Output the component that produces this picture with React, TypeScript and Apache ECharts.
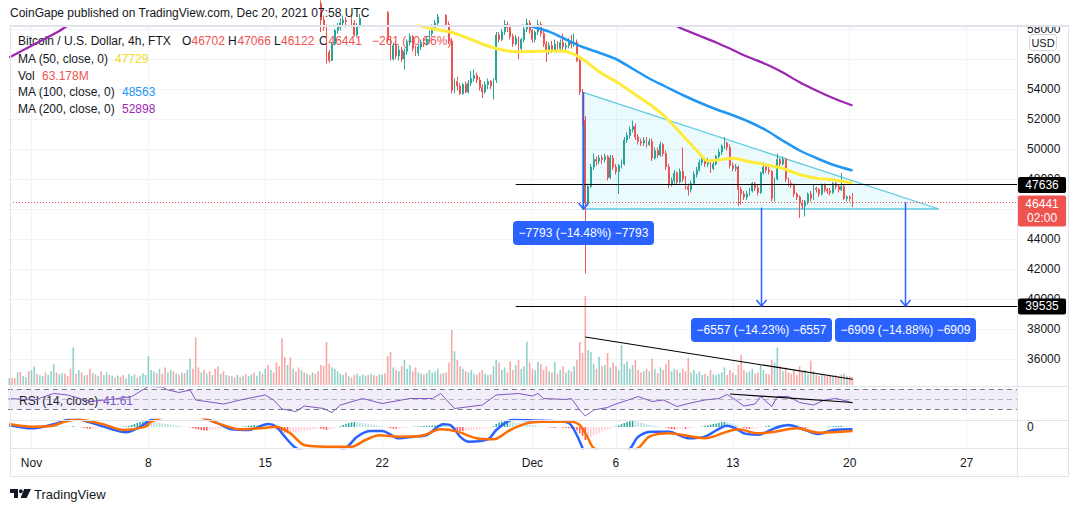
import React, { useEffect, useRef } from "react";
import * as echarts from "echarts";

// ---------------- styling constants ----------------
const FONT = "'Liberation Sans', Arial, sans-serif";
const TEXT = "#131722";
const UP = "#26a69a";
const DOWN = "#ef5350";
const VOL_UP = "rgba(38,166,154,0.5)";
const VOL_DOWN = "rgba(239,83,80,0.5)";
const GRID_COLOR = "#f0f3fa";
const FRAME = "#e0e3eb";
const BLUE_TOOL = "#2962ff";

// ---------------- axis domain ----------------
// slots are 4h bars counted from 2021-11-01 00:00 UTC
const FIRST_SLOT = -8; // 2021-10-30 16:00
const SLOT_COUNT = 363;
const timeTicks: [number, string][] = [
  [0, "Nov"], [42, "8"], [84, "15"], [126, "22"], [180, "Dec"],
  [210, "6"], [252, "13"], [294, "20"], [336, "27"],
];
// price labels drawn on the right scale (46000 is hidden under the last-price badge)
const priceLabels = [36000, 38000, 40000, 42000, 44000, 48000, 50000, 52000, 54000, 56000, 58000];

// ---------------- candles [open, close, low, high], slot 100 .. 295 ----------------
const CANDLE_START = 100;
const candles: number[][] = [
  [60300,60000,59700,60600],[60000,60200,59800,60500],[60200,59900,59600,60400],[59900,59700,59400,60100],
  [59700,58600,57800,59900],[58600,58100,57900,58900],[58100,56450,55700,58300],[56450,55900,55750,56600],
  [55900,57000,55850,57100],[57000,57900,56900,58000],[57900,58100,57700,58400],[58100,58400,57900,58700],
  [58400,58600,58200,58900],[58600,58500,58100,58800],[58500,58700,58300,59000],[58700,58400,58100,58900],
  [58400,57600,57500,58600],[57600,58200,57500,58400],[58200,58700,58100,59000],[58700,59100,58500,59300],
  [59100,59400,58900,59700],[59400,59200,58900,59600],[59200,59600,59000,59800],[59600,59300,59000,59700],
  [59300,59000,58700,59500],[59000,59200,58800,59400],[59200,59400,59000,59700],[59400,59100,58800,59600],
  [59100,57300,57100,59200],[57300,56000,55900,57500],[56000,56900,55900,57100],[56900,56200,56000,57200],
  [56200,56600,55900,56900],[56600,56000,55800,56800],[56000,56500,55300,56700],[56500,57100,56300,57300],
  [57100,57500,56900,57700],[57500,56700,56500,57600],[56700,56400,56200,56900],[56400,56800,56200,57000],
  [56800,57100,56600,57300],[57100,57000,56800,57400],[57000,57300,56900,57500],[57300,57700,57100,57900],
  [57700,58100,57500,58300],[58100,58400,57900,58600],[58400,58800,58200,59000],[58800,58600,58300,59100],
  [58600,58900,58400,59200],[58900,58300,58100,59000],[58300,57200,57000,58500],[57200,53900,53700,57400],
  [53900,54500,53700,54700],[54500,54200,53900,54800],[54200,53700,53600,54400],[53700,54300,53600,54400],
  [54300,53800,53700,54500],[53800,54400,53700,54600],[54400,54700,54200,55200],[54700,54900,54500,55300],
  [54900,54600,54400,55100],[54600,54100,53900,54800],[54100,53800,53400,54300],[53800,54300,53700,54500],
  [54300,54500,54000,54700],[54500,54200,54000,54600],[54200,54600,53300,54700],[54600,57600,54400,57800],
  [57600,57300,57100,57800],[57300,57800,57200,58000],[57800,58300,57600,58600],[58300,58100,57800,58500],
  [58100,57500,57300,58300],[57500,57000,56800,57700],[57000,57400,56900,57600],[57400,56700,56000,57500],
  [56700,57300,56600,57400],[57300,58000,57100,58200],[58000,58400,57800,58700],[58400,57900,57700,58600],
  [57900,57300,57100,58000],[57300,57800,57100,57900],[57800,58300,57600,58600],[58300,57700,57500,58500],
  [57700,57000,56800,57900],[57000,56500,55800,57200],[56500,56900,56300,57100],[56900,56600,56400,57200],
  [56600,57000,56500,57300],[57000,56700,56500,57200],[56700,57100,56500,57300],[57100,56800,56600,57700],
  [56800,56900,56600,57100],[56900,57200,56700,57400],[57200,57000,56700,57600],[57000,57100,56800,57700],
  [57100,55900,55800,57300],[55900,53800,53600,56000],[53800,51900,51600,54000],[51900,46400,41700,52200],
  [46400,47500,46200,47700],[47500,48800,47400,49000],[48800,49300,48600,49700],[49300,49200,48900,49500],
  [49200,49400,49000,49600],[49400,49300,49000,49600],[49300,49500,49100,49700],[49500,48100,47900,49600],
  [48100,49400,48000,49600],[49400,48800,48600,49600],[48800,48500,48300,49000],[48500,48900,47000,49000],
  [48900,49000,48700,49300],[49000,50600,48900,50800],[50600,50900,50400,51100],[50900,51300,50700,51500],
  [51300,51500,51100,51900],[51500,50800,50600,51700],[50800,50500,50300,51000],[50500,50400,50200,50700],
  [50400,50600,50200,50800],[50600,50300,50100,50800],[50300,50500,50200,50700],[50500,49400,49200,50700],
  [49400,49900,49300,50100],[49900,49600,49400,50100],[49600,50300,49500,50500],[50300,49700,49500,50400],
  [49700,48800,48600,49900],[48800,47600,47400,49000],[47600,47900,47500,48100],[47900,48400,47700,48600],
  [48400,47800,47600,48500],[47800,48500,47700,48700],[48500,48000,47800,50100],[48000,47500,47300,48200],
  [47500,47300,46900,47700],[47300,47700,47100,47900],[47700,48300,47600,48500],[48300,48600,48100,48800],
  [48600,49100,48500,49300],[49100,49300,48900,49500],[49300,49000,48800,49400],[49000,49200,48800,49400],
  [49200,48700,48400,49300],[48700,49000,48600,49200],[49000,49500,48900,49600],[49500,49800,49300,50000],
  [49800,50200,49600,50300],[50200,50400,50000,50800],[50400,50100,49900,50500],[50100,48900,48700,50300],
  [48900,48700,48500,49100],[48700,48800,48500,49000],[48800,47300,46200,48900],[47300,47000,46300,47500],
  [47000,46800,46600,47200],[46800,47000,46600,47200],[47000,47200,46900,47400],[47200,47700,47100,47800],
  [47700,47400,47200,47800],[47400,47100,46900,47600],[47100,48400,47000,48500],[48400,48800,48300,49100],
  [48800,48600,48400,49000],[48600,48500,48300,48800],[48500,46700,46500,48600],[46700,48000,46500,48100],
  [48000,49300,47900,49700],[49300,49000,48800,49400],[49000,49300,48900,49500],[49300,48000,47800,49400],
  [48000,47700,47500,48100],[47700,47600,47400,47900],[47600,47000,46800,47700],[47000,46800,46600,47100],
  [46800,46400,45400,46900],[46400,46200,46000,46600],[46200,46500,45500,46600],[46500,47000,46300,47100],
  [47000,46700,46500,47200],[46700,47400,46600,47600],[47400,47300,47100,47500],[47300,47000,46800,47400],
  [47000,47600,46900,47700],[47600,47300,47100,47700],[47300,47200,47000,47400],[47200,47100,46900,47400],
  [47100,47700,47000,47800],[47700,47500,47300,47800],[47500,47300,47100,47600],[47300,47500,47200,48400],
  [47500,46700,46600,47600],[46700,46800,46500,46900],[46800,46702,46500,46900],[46702,46441,46122,47066],
];

// ---------------- volume (millions), slot -8 .. 295 ----------------
const VOLUME_START = -8;
const volumes: number[] = [
  55,58,56,100,105,70,64,110,
  120,150,90,80,70,100, 80,110,165,100,85,95, 90,70,130,300,90,120, 100,75,80,130,95,85,
  70,110,80,100,80,75, 60,75,65,80,55,90, 70,85,60,75,95,80, 230,120,110,95,130,90,
  140,100,120,110,90,85, 100,95,120,210,130,380, 140,100,120,90,110,80, 130,150,90,110,80,75,
  70,60,80,65,75,90, 70,85,100,75,110,90, 130,160,120,100,180,150, 375,225,160,220,130,110,
  140,120,100,90,
  80,100,
  90,110,160,150,345,170, 140,130,110,90,80,100, 70,60,80,90,70,85, 75,80,90,80,70,85,
  80,95,230,265,140,120, 110,150,200,130,160,110, 140,100,90,85,95,120, 100,110,130,90,95,100,
  180,440,270,200,150,130, 110,100,120,90,80,100, 120,90,80,85,150,200, 180,120,140,100,190,120,
  160,200,130,150,346,180, 130,120,185,170,120,150, 110,100,185,90,120,150, 100,120,110,150,200,345,
  255,712,280,265,170,130, 225,150,160,255,140,180, 150,120,320,170,190,130, 160,200,120,100,110,130,
  110,210,130,95,140,120, 170,200,110,130,120,100, 130,110,215,100,120,90, 110,80,90,70,120,85,
  80,90,100,140,80,120, 100,80,160,240,120,100, 110,130,90,100,160,120, 90,85,200,180,300,150,
  110,140,100,90,120,80, 150,110,120,90,195,110, 80,70,90,75,70,80, 75,80,70,85,90,75,
  70,63.178,
];
// bar colour (u = up, d = down) for slots -8 .. 99, before the candle list starts
const earlyVolumeDirections =
  "udduduud" + "uuduud" + "uuuduu" + "dddudu" + "duddud" + "uduudu" + "dudduu" + "uuduuu" +
  "uuudud" + "duudud" + "uduudd" + "dududu" + "ddudud" + "ududud" + "uuduud" + "ududdd" + "ddudud" + "dudu";

// ---------------- moving averages [slot, value] ----------------
const ma50: number[][] = [
  [138,58300],[144,58020],[150,57820],[156,57450],[162,57000],[168,56650],[174,56480],[180,56500],
  [186,56530],[192,56500],[198,56000],[204,55150],[210,54500],[216,53750],[222,53000],[228,52100],
  [234,50900],[240,49700],[243,49200],[246,49250],[252,49380],[258,49150],[264,48950],[270,48700],
  [276,48300],[282,48050],[288,47950],[295,47729],
];
const ma100: number[][] = [
  [174,58500],[180,58150],[186,57820],[192,57300],[198,56800],[204,56420],[210,56000],[216,55350],
  [222,54700],[228,54150],[234,53600],[240,53100],[246,52650],[252,52250],[258,51800],[264,51250],
  [270,50550],[276,49900],[282,49400],[288,48950],[295,48563],
];
const ma200: number[][] = [
  [-8,56100],[-2,56690],[4,57270],[10,57870],[16,58470],
  [228,58450],[234,58000],[240,57550],[246,57100],[252,56600],[258,56100],[264,55650],[270,55100],
  [276,54450],[282,53900],[288,53400],[295,52898],
];

// ---------------- RSI (14) [slot, value] ----------------
const rsi: number[][] = [
  [-8,51],[1,48],[8,61],[13,58],[21,45],[30,50],[36,55],[42,75],[47,74],[49,68],[53,63],[57,68],
  [59,48],[69,40],[75,48],[84,58],[87,48],[90,30],[95,25],[98,36],[105,31],[108,23],[111,38],
  [119,51],[126,41],[136,51],[144,51],[147,61],[152,31],[162,38],[167,58],[175,61],[180,56],
  [182,61],[184,51],[192,49],[194,51],[197,28],[199,16],[202,28],[207,33],[209,38],[216,51],
  [218,55],[223,45],[227,48],[232,35],[236,41],[242,48],[247,51],[250,59],[253,48],[256,36],
  [260,40],[262,55],[266,35],[268,55],[272,55],[276,43],[281,38],[285,48],[289,51],[293,46],[295,41.61],
];

// ---------------- MACD [slot, value] and histogram (slot -8 .. 295) ----------------
const macdLine: number[][] = [
  [-8,100],[0,-67],[7,100],[11,267],[15,450],[20,267],[26,17],[32,-233],[34,-267],[38,-67],[41,183],
  [43,370],[50,700],[58,650],[63,400],[67,183],[72,-117],[78,-150],[85,150],[88,17],[91,-483],[95,-1050],
  [100,-1300],[106,-1400],[113,-1050],[117,-483],[122,-200],[126,-200],[132,-567],[137,-483],[142,-400],
  [148,133],[151,50],[154,-483],[157,-733],[164,-617],[167,-150],[170,183],[173,380],[180,330],[189,290],
  [193,200],[195,-150],[198,-1050],[201,-2200],[208,-1800],[215,-1100],[218,-483],[223,-233],[229,-233],
  [236,-567],[242,-483],[250,67],[253,-67],[256,-317],[261,-383],[267,-67],[272,100],[278,-150],
  [283,-350],[288,-150],[295,-117],
];
const signalLine: number[][] = [
  [-8,150],[0,17],[7,50],[12,267],[16,380],[20,317],[26,133],[33,-150],[41,17],[43,267],[50,550],
  [60,500],[68,133],[75,-117],[83,-50],[88,17],[93,-317],[98,-900],[106,-983],[115,-983],[120,-650],
  [125,-417],[132,-483],[140,-450],[147,-117],[153,-233],[160,-567],[166,-617],[172,-150],[178,183],
  [183,267],[193,280],[197,100],[200,-567],[202,-1050],[210,-1500],[218,-1050],[222,-483],[229,-317],
  [242,-567],[250,-233],[254,-117],[261,-317],[267,-233],[275,-67],[283,-283],[295,-200],
];
const HIST_START = -8;
const macdHist: number[] = [
  20,30,40,20,10,-10,-20,-30,
  -40,-30,-20,-10,10,20, 40,60,80,70,60,50, 40,30,20,40,30,10, -20,-50,-80,-100,-90,-70,
  -60,-50,-40,-30,-20,-20, -10,0,10,20,40,60, 100,150,200,250,280,300, 290,270,250,220,200,180,
  160,140,120,100,80,60, 40,20,0,-20,-60,-100, -130,-150,-170,-180,-160,-140, -120,-100,-80,-60,-50,-40,
  -30,-20,-10,0,20,40, 60,80,100,90,80,60, 50,30,0,-50,-120,-180, -230,-270,-300,-290,-280,-260,
  -240,-220,-190,-170,-140,-120, -100,-80,-90,-110,-150,-130, -100,-60,-20,40,100,160, 200,230,250,240,220,200,
  180,150,120,100,80,60, 40,20,-20,-60,-80,-90, -80,-70,-50,-30,-10,10, 20,30,40,50,60,70,
  80,90,100,110,100,80, 40,-60,-140,-180,-200,-210, -200,-180,-160,-140,-120,-100, -90,-80,-60,-40,40,150,
  220,260,290,300,280,260, 230,200,170,150,130,110, 90,70,50,30,10,-10, -30,-40,-50,-40,-30,-40,
  -50,-60,-70,-90,-180,-320, -450,-650,-600,-500,-420,-350, -290,-230,-180,-130,-80,-30, 20,80,140,200,250,290,
  300,290,260,220,180,140, 110,80,60,40,20,0, -20,-60,-100,-120,-110,-90, -80,-90,-80,-60,-40,-20,
  0,30,60,90,120,150, 180,210,240,250,230,200, 160,120,60,0,-50,-80, -90,-80,-60,-40,-20,10,
  40,60,50,40,80,110, 120,110,90,60,30,0, -30,-50,-60,-50,-40,-30, -20,-10,0,10,20,30,
  40,50,50,60,50,40, 30,20,
];

// ---------------- drawings on the chart ----------------
const triangle = { startSlot: 198, endSlot: 326, top: 53793, base: 46000 };
const levelLines = [47636, 39535];
const levelStartSlot = 174;
const measures = [
  { slot: 198, from: 53793, to: 46000, label: "\u22127793 (\u221214.48%) \u22127793" },
  { slot: 262, from: 46092, to: 39535, label: "\u22126557 (\u221214.23%) \u22126557" },
  { slot: 314, from: 46444, to: 39535, label: "\u22126909 (\u221214.88%) \u22126909" },
];
const volumeTrend = [[199, 384], [295, 46]];
const rsiTrend = [[251, 60], [295, 43]];
const countdown = "02:00";

echarts.graphic.registerShape(
  "tvLogo",
  echarts.graphic.extendPath(
    "M0 0H8V9H4V4H0Z M8.8 2.2A2 2 0 1 0 12.8 2.2A2 2 0 1 0 8.8 2.2Z M14.2 0H21L16.6 9H10.6Z",
    {}
  )
);

const idx = (s: number) => s - FIRST_SLOT;

function buildOption(): any {
  const categories = Array.from({ length: SLOT_COUNT }, (_, i) => {
    const t = new Date(Date.UTC(2021, 10, 1) + (i + FIRST_SLOT) * 4 * 3600 * 1000);
    return t.toISOString().slice(0, 16).replace("T", " ");
  });
  const tickMap = new Map<number, string>(timeTicks.map(([s, l]) => [idx(s), l]));
  const priceLabelSet = new Set(priceLabels);
  const candleEnd = CANDLE_START + candles.length - 1;
  const lastClose = candles[candles.length - 1][1];

  const candleData = categories.map((_, i) => {
    const k = i + FIRST_SLOT - CANDLE_START;
    return k >= 0 && k < candles.length ? candles[k] : "-";
  });

  const volumeData = volumes.map((v, k) => {
    const s = VOLUME_START + k;
    const ck = s - CANDLE_START;
    const up = ck >= 0 && ck < candles.length ? candles[ck][1] >= candles[ck][0] : earlyVolumeDirections[k] === "u";
    return { value: [idx(s), v], itemStyle: { color: up ? VOL_UP : VOL_DOWN } };
  });

  const histData = macdHist.map((v, k) => {
    const prev = k > 0 ? macdHist[k - 1] : v;
    const color = v >= 0 ? (v >= prev ? "#26a69a" : "#b2dfdb") : v <= prev ? "#ff5252" : "#ffcdd2";
    return { value: [idx(HIST_START + k), v], itemStyle: { color } };
  });

  const toIdx = (arr: number[][]) => arr.map(([s, v]) => [idx(s), v]);

  const GL = 7.85;
  const GR = 1079 - 1018.05;

  const xBase = (g: number, split: boolean) => ({
    type: "category",
    gridIndex: g,
    data: categories,
    boundaryGap: true,
    axisLine: { show: false },
    axisTick: { show: false },
    axisLabel: { show: false },
    splitLine: split
      ? { show: true, alignWithLabel: true, interval: (i: number) => tickMap.has(i), lineStyle: { color: GRID_COLOR, width: 1 } }
      : { show: false },
  });

  const lineSeries = (name: string, data: number[][], color: string, width: number, xi: number, smooth = 0.25) => ({
    name,
    type: "line",
    xAxisIndex: xi,
    yAxisIndex: xi,
    data,
    symbol: "none",
    showSymbol: false,
    smooth,
    clip: true,
    silent: true,
    z: 4,
    lineStyle: { color, width },
  });

  const graphic: any[] = [
    { type: "rect", z: 50, shape: { x: 1000, y: 0, width: 79, height: 25 }, style: { fill: "#fff" } },
    {
      type: "text", x: 10, y: 13, z: 60,
      style: { text: "CoinGape published on TradingView.com, Dec 20, 2021 07:58 UTC", fill: TEXT, fontSize: 12, fontFamily: FONT, verticalAlign: "middle" },
    },
    { type: "rect", z: 60, shape: { x: 10.5, y: 25.5, width: 1058, height: 451 }, style: { fill: "none", stroke: FRAME, lineWidth: 1 } },
    { type: "line", z: 60, shape: { x1: 10, y1: 26, x2: 1069, y2: 26 }, style: { stroke: FRAME, lineWidth: 2 } },
    { type: "line", z: 60, shape: { x1: 10, y1: 386.5, x2: 1069, y2: 386.5 }, style: { stroke: FRAME, lineWidth: 1 } },
    { type: "line", z: 60, shape: { x1: 10, y1: 420.5, x2: 1069, y2: 420.5 }, style: { stroke: FRAME, lineWidth: 1 } },
    { type: "line", z: 60, shape: { x1: 10, y1: 448.5, x2: 1069, y2: 448.5 }, style: { stroke: FRAME, lineWidth: 1 } },
    { type: "line", z: 60, shape: { x1: 1017.5, y1: 26, x2: 1017.5, y2: 477 }, style: { stroke: FRAME, lineWidth: 1 } },
    // USD badge
    { type: "rect", z: 60, shape: { x: 1029.5, y: 34.5, width: 27, height: 16, r: 3 }, style: { fill: "#fff", stroke: "#d1d4dc", lineWidth: 1 } },
    { type: "text", z: 61, x: 1043, y: 43, style: { text: "USD", fill: TEXT, fontSize: 11, fontFamily: FONT, align: "center", verticalAlign: "middle" } },
  ];

  const legendText = (x: number, y: number, text: string, fill: string) => ({
    type: "text", x, y, z: 1,
    style: { text, fill, fontSize: 12, fontFamily: FONT, verticalAlign: "middle" },
  });
  graphic.push(
    legendText(18, 41, "Bitcoin / U.S. Dollar, 4h, FTX", TEXT),
    legendText(182, 41, "O", TEXT), legendText(191.5, 41, "46702", DOWN),
    legendText(228, 41, "H", TEXT), legendText(237.5, 41, "47066", DOWN),
    legendText(274, 41, "L", TEXT), legendText(281, 41, "46122", DOWN),
    legendText(319, 41, "C", TEXT), legendText(328.5, 41, "46441", DOWN),
    legendText(372, 41, "\u2212261 (\u22120.56%)", DOWN),
    legendText(18, 59, "MA (50, close, 0)", TEXT), legendText(115, 59, "47729", "#f2dc1d"),
    legendText(18, 76, "Vol", TEXT), legendText(42, 76, "63.178M", DOWN),
    legendText(18, 92, "MA (100, close, 0)", TEXT), legendText(122, 92, "48563", "#2196f3"),
    legendText(18, 109, "MA (200, close, 0)", TEXT), legendText(122, 109, "52898", "#9c27b0"),
    legendText(19, 401, "RSI (14, close)", TEXT), legendText(103, 401, "41.61", "#7e57c2"),
    { type: "tvLogo", x: 10, y: 489, z: 60, scaleX: 1, scaleY: 1, style: { fill: TEXT } },
    { type: "text", x: 34, y: 494, z: 60, style: { text: "TradingView", fill: TEXT, fontSize: 13, fontFamily: FONT, verticalAlign: "middle" } }
  );

  return {
    animation: false,
    backgroundColor: "#ffffff",
    textStyle: { fontFamily: FONT },
    grid: [
      { left: GL, right: GR, top: 26, height: 363 },
      { left: GL, right: GR, top: 285, height: 100 },
      { left: GL, right: GR, top: 386, height: 34 },
      { left: GL, right: GR, top: 420, height: 28 },
    ],
    xAxis: [
      xBase(0, true),
      xBase(1, false),
      xBase(2, true),
      {
        ...xBase(3, true),
        axisLabel: {
          show: true,
          interval: (i: number) => tickMap.has(i),
          formatter: (_v: string, i: number) => tickMap.get(i) ?? "",
          color: TEXT,
          fontSize: 12,
          fontFamily: FONT,
          margin: 9,
        },
      },
    ],
    yAxis: [
      {
        type: "value", gridIndex: 0, position: "right", min: 34000, max: 58200, interval: 2000,
        axisLine: { show: false }, axisTick: { show: false },
        splitLine: { show: true, showMinLine: false, showMaxLine: false, lineStyle: { color: GRID_COLOR } },
        axisLabel: {
          margin: 9, color: TEXT, fontSize: 12, fontFamily: FONT,
          formatter: (v: number) => (priceLabelSet.has(v) ? String(v) : ""),
        },
      },
      { type: "value", gridIndex: 1, min: 0, max: 800, show: false },
      { type: "value", gridIndex: 2, min: 8, max: 76, show: false },
      {
        type: "value", gridIndex: 3, position: "right", min: -1050, max: 350, interval: 350,
        axisLine: { show: false }, axisTick: { show: false }, splitLine: { show: false },
        axisLabel: { margin: 9, color: TEXT, fontSize: 12, fontFamily: FONT, formatter: (v: number) => (v === 0 ? "0" : "") },
      },
    ],
    graphic,
    series: [
      {
        name: "triangle",
        type: "custom",
        xAxisIndex: 0,
        yAxisIndex: 0,
        z: 1,
        silent: true,
        clip: false,
        data: [[idx(triangle.startSlot), triangle.base]],
        renderItem: (_params: any, api: any) => {
          const a = api.coord([idx(triangle.startSlot), triangle.top]);
          const b = api.coord([idx(triangle.startSlot), triangle.base]);
          const c = api.coord([idx(triangle.endSlot), triangle.base]);
          return {
            type: "polygon",
            shape: { points: [a, c, b] },
            style: { fill: "rgba(128,222,234,0.16)", stroke: "#5fcbe0", lineWidth: 1.3 },
          };
        },
      },
      {
        name: "Volume",
        type: "bar",
        xAxisIndex: 1,
        yAxisIndex: 1,
        data: volumeData,
        barWidth: 1.6,
        silent: true,
        z: 2,
        markLine: {
          silent: true,
          symbol: "none",
          label: { show: false },
          lineStyle: { color: "#000", width: 1.2, type: "solid" },
          data: [[{ coord: [idx(volumeTrend[0][0]), volumeTrend[0][1]] }, { coord: [idx(volumeTrend[1][0]), volumeTrend[1][1]] }]],
        },
      },
      {
        name: "BTCUSD",
        type: "candlestick",
        xAxisIndex: 0,
        yAxisIndex: 0,
        data: candleData,
        barWidth: 1.4,
        clip: true,
        silent: true,
        z: 3,
        itemStyle: { color: UP, color0: DOWN, borderColor: UP, borderColor0: DOWN, borderWidth: 1 },
      },
      lineSeries("MA50", toIdx(ma50), "#ffeb3b", 3, 0),
      lineSeries("MA100", toIdx(ma100), "#2196f3", 2.5, 0),
      lineSeries("MA200", toIdx(ma200), "#9c27b0", 2.2, 0),
      {
        name: "annotations",
        type: "custom",
        xAxisIndex: 0,
        yAxisIndex: 0,
        z: 6,
        silent: true,
        clip: false,
        data: [[idx(candleEnd), lastClose]],
        renderItem: (params: any, api: any) => {
          const cs = params.coordSys;
          const right = cs.x + cs.width;
          const pt = (s: number, p: number) => api.coord([idx(s), p]);
          const kids: any[] = [];
          const cy = Math.round(pt(candleEnd, lastClose)[1]) + 0.5;
          kids.push({ type: "line", shape: { x1: 10, y1: cy, x2: right, y2: cy }, style: { stroke: DOWN, lineWidth: 1, lineDash: [1, 2] } });
          levelLines.forEach((p) => {
            const a = pt(levelStartSlot, p);
            const y = Math.round(a[1]) + 0.5;
            kids.push({ type: "line", shape: { x1: a[0], y1: y, x2: right, y2: y }, style: { stroke: "#000", lineWidth: 1 } });
          });
          measures.forEach((m) => {
            const a = pt(m.slot, m.from);
            const b = pt(m.slot, m.to);
            const x = Math.round(a[0]) + 0.5;
            kids.push({ type: "line", shape: { x1: x, y1: a[1], x2: x, y2: b[1] }, style: { stroke: BLUE_TOOL, lineWidth: 1.5 } });
            kids.push({
              type: "polyline",
              shape: { points: [[x - 5, b[1] - 6], [x, b[1]], [x + 5, b[1] - 6]] },
              style: { stroke: BLUE_TOOL, lineWidth: 1.5, fill: "none" },
            });
            const top = b[1] + 12;
            kids.push({ type: "rect", shape: { x: x - 70.5, y: top, width: 141, height: 24, r: 4 }, style: { fill: BLUE_TOOL } });
            kids.push({
              type: "text", x, y: top + 12,
              style: { text: m.label, fill: "#fff", fontSize: 12, fontFamily: FONT, align: "center", verticalAlign: "middle" },
            });
          });
          // price scale badges
          levelLines.forEach((p) => {
            const y = pt(levelStartSlot, p)[1];
            kids.push({ type: "rect", shape: { x: right, y: y - 7.5, width: 48, height: 16, r: 2 }, style: { fill: "#000" } });
            kids.push({
              type: "text", x: right + 24, y: y + 0.5,
              style: { text: String(p), fill: "#fff", fontSize: 12, fontFamily: FONT, align: "center", verticalAlign: "middle" },
            });
          });
          const py = pt(candleEnd, lastClose)[1];
          kids.push({ type: "rect", shape: { x: right, y: py - 7, width: 48, height: 31, r: 2 }, style: { fill: DOWN } });
          kids.push({
            type: "text", x: right + 24, y: py + 1.5,
            style: { text: String(lastClose), fill: "#fff", fontSize: 12, fontFamily: FONT, align: "center", verticalAlign: "middle" },
          });
          kids.push({
            type: "text", x: right + 24, y: py + 15.5,
            style: { text: countdown, fill: "#fff", fontSize: 12, fontFamily: FONT, align: "center", verticalAlign: "middle" },
          });
          return { type: "group", children: kids };
        },
      },
      {
        ...lineSeries("RSI", toIdx(rsi), "#7e57c2", 1, 2, 0),
        markArea: {
          silent: true,
          itemStyle: { color: "rgba(126,87,194,0.1)" },
          data: [[{ yAxis: 70 }, { yAxis: 30 }]],
        },
        markLine: {
          silent: true,
          symbol: "none",
          label: { show: false },
          lineStyle: { color: "#787b86", width: 1, type: [5, 4] },
          data: [
            { yAxis: 70 },
            { yAxis: 50, lineStyle: { color: "rgba(120,123,134,0.5)", width: 1, type: [5, 4] } },
            { yAxis: 30 },
            [
              { coord: [idx(rsiTrend[0][0]), rsiTrend[0][1]], lineStyle: { color: "#000", width: 1.2, type: "solid" } },
              { coord: [idx(rsiTrend[1][0]), rsiTrend[1][1]] },
            ],
          ],
        },
      },
      {
        name: "Histogram",
        type: "bar",
        xAxisIndex: 3,
        yAxisIndex: 3,
        data: histData,
        barWidth: 1.5,
        silent: true,
        z: 2,
      },
      lineSeries("MACD", toIdx(macdLine), "#2962ff", 2.5, 3, 0.3),
      lineSeries("Signal", toIdx(signalLine), "#ff6d00", 2.5, 3, 0.3),
    ],
  };
}

export default function App() {
  const ref = useRef<HTMLDivElement>(null);
  useEffect(() => {
    if (!ref.current) return;
    const chart = echarts.init(ref.current, null, { renderer: "svg", width: 1079, height: 511 });
    chart.setOption(buildOption());
    return () => chart.dispose();
  }, []);
  return (
    <div
      ref={ref}
      style={{ position: "fixed", left: 0, top: 0, width: 1079, height: 511, background: "#fff" }}
    />
  );
}
